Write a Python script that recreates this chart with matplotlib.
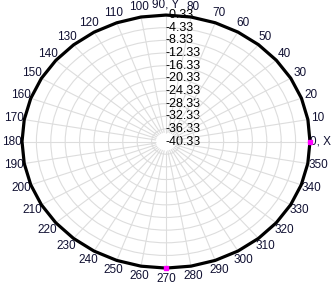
import numpy as np
import matplotlib
matplotlib.use("Agg")
import matplotlib.pyplot as plt

plt.rcParams['font.family'] = ['Liberation Sans', 'DejaVu Sans']

# pattern data (degrees, dB)
angles_deg = [0, 10, 20, 30, 40, 50, 60, 70, 80, 90, 100, 110, 120, 130, 140, 150, 160, 170,
              180, 190, 200, 210, 220, 230, 240, 250, 260, 270, 280, 290, 300, 310, 320, 330, 340, 350, 360]
gain_db = [-0.33, -0.30, -0.28, -0.30, -0.33, -0.35, -0.36, -0.35, -0.34, -0.33, -0.34, -0.36, -0.38, -0.40,
           -0.38, -0.36, -0.35, -0.34, -0.33, -0.34, -0.35, -0.36, -0.37, -0.36, -0.35, -0.34, -0.33, -0.33,
           -0.34, -0.35, -0.36, -0.37, -0.36, -0.35, -0.34, -0.33, -0.33]
marker_deg = [0, 270]
marker_db = [-0.33, -0.33]

r_ticks = [-40.33, -36.33, -32.33, -28.33, -24.33, -20.33, -16.33, -12.33, -8.33, -4.33, -0.33]
theta_ticks = list(range(0, 360, 10))
theta_labels = [str(a) for a in theta_ticks]
theta_labels[0] = "0, X"
theta_labels[9] = "90, Y"

fig = plt.figure(figsize=(3.31, 2.84), dpi=100)
ax = fig.add_axes([0.0665, 0.056, 0.870, 0.891], projection='polar')
ax.set_aspect('auto')

ax.set_ylim(r_ticks[0], r_ticks[-1])
ax.set_yticks(r_ticks)
ax.set_yticklabels([f"{v:.2f}" for v in r_ticks], fontsize=9)
ax.set_rlabel_position(90)
for lab in ax.get_yticklabels():
    lab.set_horizontalalignment('left')
    lab.set_verticalalignment('center')

ax.set_xticks(np.deg2rad(theta_ticks))
ax.set_xticklabels(theta_labels, fontsize=8.5, color='#111133')
ax.tick_params(axis='x', pad=-3)

ax.grid(axis='y', color='#dddddd', lw=0.8)
ax.grid(axis='x', visible=False)
ax.vlines(np.deg2rad(theta_ticks), -37.5, r_ticks[-1], color='#dddddd', lw=0.8, zorder=0)
ax.spines['polar'].set_visible(False)

ax.plot(np.deg2rad(angles_deg), gain_db, color='black', lw=2.3, clip_on=False, zorder=3)
ax.plot(np.deg2rad(marker_deg), marker_db, ls='none', marker='s', ms=3.5, color='#ff00ff',
        clip_on=False, zorder=4)

fig.savefig("out.png", dpi=100)
